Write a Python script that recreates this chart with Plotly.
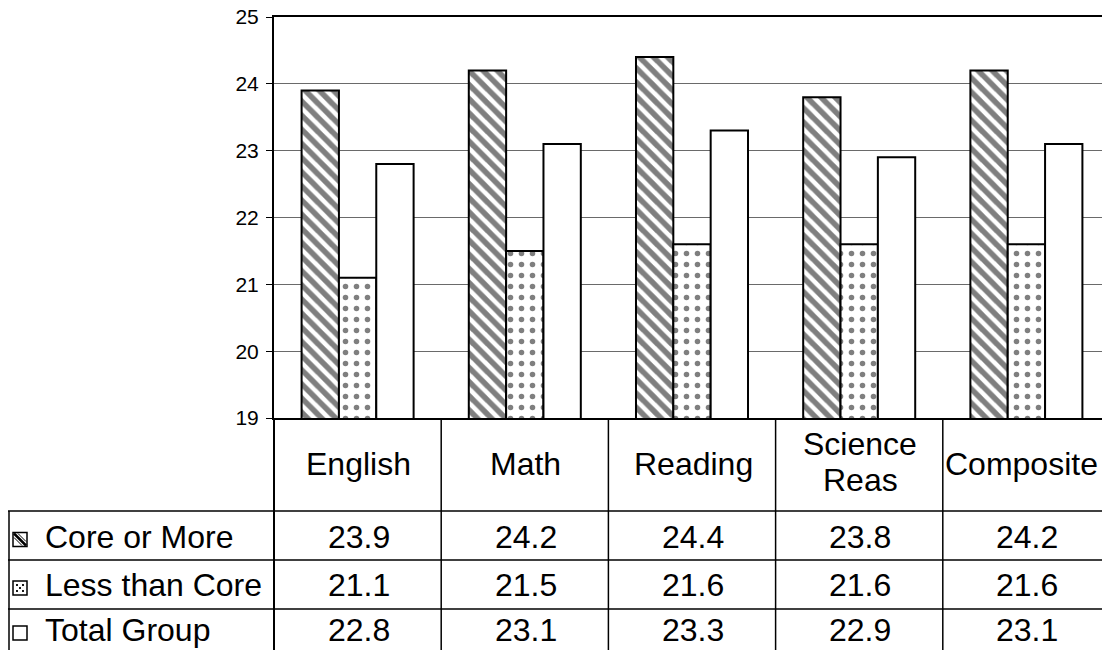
import plotly.graph_objects as go

categories = ["English", "Math", "Reading", "Science Reas", "Composite"]
header_labels = ["English", "Math", "Reading", "Science<br>Reas", "Composite"]
series_names = ["Core or More", "Less than Core", "Total Group"]
core = [23.9, 24.2, 24.4, 23.8, 24.2]
less = [21.1, 21.5, 21.6, 21.6, 21.6]
total = [22.8, 23.1, 23.3, 22.9, 23.1]
y_ticks = [19, 20, 21, 22, 23, 24, 25]

# figure sized to fit the viewport inside the page's 8px body margin
W, H = 1094, 642
OFF = 8
FONT = "Liberation Sans, Arial, sans-serif"


def px(x):  # page pixel -> paper
    return (x - OFF) / W


def py(y):
    return 1 - (y - OFF) / H


fig = go.Figure()
line = dict(color="black", width=2)
fig.add_trace(go.Bar(x=categories, y=core, name=series_names[0],
                     marker=dict(color="white", line=line,
                                 pattern=dict(shape="\\", fgcolor="black", bgcolor="white",
                                              size=10, solidity=0.55))))
fig.add_trace(go.Bar(x=categories, y=less, name=series_names[1],
                     marker=dict(color="white", line=line,
                                 pattern=dict(shape=".", fgcolor="black", bgcolor="white",
                                              size=11, solidity=0.2))))
fig.add_trace(go.Bar(x=categories, y=total, name=series_names[2],
                     marker=dict(color="white", line=line)))

x0, x1 = 274, 1110
y_top, y_bot = 17, 418
col_w = (x1 - x0) / len(categories)
x_right = OFF + W
n_vis = (x_right - x0) / col_w

fig.update_layout(
    width=W, height=H, margin=dict(l=0, r=0, t=0, b=0),
    paper_bgcolor="white", plot_bgcolor="white",
    barmode="group", bargap=0.33, bargroupgap=0,
    showlegend=False,
    font=dict(family=FONT, color="black"),
    xaxis=dict(domain=[px(x0), 1], range=[-0.5, -0.5 + n_vis], showticklabels=False, ticks="",
               showline=True, linecolor="black", linewidth=2, mirror=True,
               showgrid=False, zeroline=False, automargin=False),
    yaxis=dict(domain=[py(y_bot), py(y_top)], range=[19, 25], tickvals=y_ticks,
               ticks="outside", ticklen=6, tickcolor="black", tickwidth=1,
               tickfont=dict(size=21, family=FONT, color="black"),
               ticklabelstandoff=3, ticklabeloverflow="allow",
               showline=True, linecolor="black", linewidth=2, automargin=False,
               showgrid=True, gridcolor="#6a6a6a", gridwidth=1, zeroline=False),
)

shapes = []
ann = []


def hline(xa, xb, y, w=1.5):
    shapes.append(dict(type="line", xref="paper", yref="paper", x0=px(xa), x1=px(xb),
                       y0=py(y), y1=py(y), line=dict(color="black", width=w)))


def vline(x, ya, yb, w=1.5):
    shapes.append(dict(type="line", xref="paper", yref="paper", x0=px(x), x1=px(x),
                       y0=py(ya), y1=py(yb), line=dict(color="black", width=w)))


def text(x, y, s, anchor="center", size=32):
    ann.append(dict(x=px(x), y=py(y), xref="paper", yref="paper", text=s,
                    showarrow=False, xanchor=anchor, yanchor="middle",
                    font=dict(size=size, family=FONT, color="black")))


col_edges = [x0 + i * col_w for i in range(len(categories) + 1)]
header_bottom = 511
row_lines = [511, 560, 609, 658]
legend_left = 8

# table grid
vline(x0, y_bot, 658, 2)
for xe in col_edges[1:-1]:
    vline(xe, y_bot, 658)
vline(legend_left + 1, header_bottom, 658)
hline(legend_left, x1, header_bottom)
for yl in row_lines[1:-1]:
    hline(legend_left, x1, yl)

# header labels (cap centre y positions)
last = len(header_labels) - 1
for i, lab in enumerate(header_labels):
    cx = (col_edges[i] + col_edges[i + 1]) / 2 + 1
    parts = lab.split("<br>")
    if len(parts) == 1:
        if i == last:
            text(x_right - 2, 464, parts[0], anchor="right")
        else:
            text(cx, 464, parts[0])
    else:
        text(cx, 444, parts[0])
        text(cx, 480, parts[1])

# values and legend labels
row_centres = [536.5, 585, 630]
series_vals = [core, less, total]
for r, vals in enumerate(series_vals):
    cy = row_centres[r]
    for i, v in enumerate(vals):
        cx = (col_edges[i] + col_edges[i + 1]) / 2 + 1
        text(cx, cy, f"{v:.1f}")
    text(43, cy, series_names[r], anchor="left")
    # legend key square
    sx0, sx1 = 13, 27
    sy0, sy1 = cy - 4, cy + 10
    shapes.append(dict(type="rect", xref="paper", yref="paper", x0=px(sx0), x1=px(sx1),
                       y0=py(sy1), y1=py(sy0), line=dict(color="black", width=1.5),
                       fillcolor="white"))
    if r == 0:
        for d in (-4, 0, 4):
            shapes.append(dict(type="line", xref="paper", yref="paper",
                               x0=px(sx0 + max(0, d) + 1), y0=py(sy0 + max(0, -d) + 1),
                               x1=px(sx1 - max(0, -d) - 1), y1=py(sy1 - max(0, d) - 1),
                               line=dict(color="black", width=2.5 if d == 0 else 1)))
    elif r == 1:
        for (dx, dy) in ((4, 4), (10, 4), (4, 10), (10, 10), (7, 7)):
            shapes.append(dict(type="rect", xref="paper", yref="paper",
                               x0=px(sx0 + dx - 0.9), x1=px(sx0 + dx + 0.9),
                               y0=py(sy0 + dy + 0.9), y1=py(sy0 + dy - 0.9),
                               line=dict(width=0), fillcolor="black"))

fig.update_layout(shapes=shapes, annotations=ann)
fig.write_html("out.html")
